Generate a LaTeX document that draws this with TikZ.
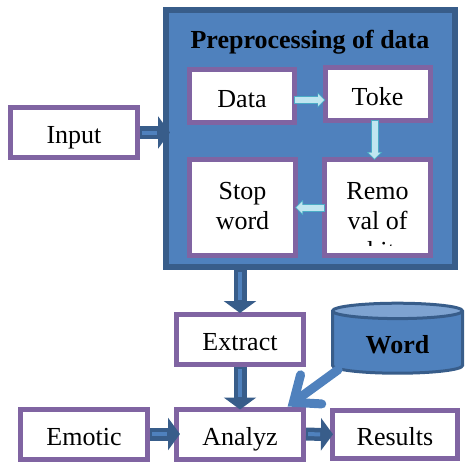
\documentclass[tikz,border=0pt]{standalone}
\usepackage{fontspec}
\setmainfont{Liberation Serif}
\usepackage{tikz}
\usetikzlibrary{arrows.meta, shapes.geometric}
\definecolor{boxblue}{HTML}{4F81BD}
\definecolor{darkblue}{HTML}{385D8A}
\definecolor{boxpurple}{HTML}{8064A2}
\definecolor{tealline}{HTML}{4BACC6}
\definecolor{lightteal}{HTML}{C0E6F0}
\definecolor{topblue}{HTML}{7EA3D1}

\begin{document}
\begin{tikzpicture}[x=0.5pt, y=-0.5pt, font=\fontsize{13}{15}\selectfont,
    box/.style={draw=boxpurple, line width=2.5pt, fill=white, inner sep=0pt, text height=11pt, text depth=0pt},
    wide/.style={box, minimum width=63.5pt, minimum height=25pt},
    small/.style={box, minimum width=52.5pt, minimum height=26.5pt},
    tall/.style={box, minimum width=53pt, minimum height=48pt,
        path picture={\clip ([yshift=5pt]path picture bounding box.south west) rectangle (path picture bounding box.north east);
            \node[align=center, anchor=north, inner sep=0pt, draw=none, fill=none, minimum size=0pt, text height={}, text depth={}]
                at ([yshift=-10pt]path picture bounding box.north) {#1};}},
    bigarrow/.style={draw=darkblue, line width=6.5pt, -{Triangle[length=6pt, width=16pt]}, shorten >=#1,
        postaction={draw=boxblue, line width=2pt, -, shorten >={#1+6.5pt}, shorten <=1pt}},
    bigarrow/.default=0pt,
    cyanarrow/.style={draw=tealline, line width=4pt, -{Triangle[length=4pt, width=7.5pt]}, shorten >=#1, shorten <=#1,
        postaction={draw=lightteal, line width=3pt, -{Triangle[length=3pt, width=5.8pt]}, shorten >={#1+0.7pt}, shorten <={#1+0.5pt}}},
    cyanarrow/.default=0pt]
    \useasboundingbox (0,0) rectangle (465,461);

    % Nodes
    \node[draw=darkblue, fill=boxblue, line width=3pt, minimum width=144.5pt, minimum height=128.5pt] (Prep) at (310.5,138.5) {};
    \node[font=\fontsize{13}{15}\selectfont\bfseries] (Title) at (310,42.5) {Preprocessing of data};
    \node[small] (Data) at (242,96) {Data};
    \node[small] (Toke) at (377.5,94) {Toke};
    \node[tall={Stop\\word}] (Stop) at (242.5,207.5) {};
    \node[tall={Remo\\val of\\white}] (Removal) at (377.5,207.5) {};
    \node[wide] (Input) at (74,132.5) {Input};
    \node[wide] (Extract) at (240,339.5) {Extract};
    \node[wide] (Emotic) at (84,434) {Emotic};
    \node[wide] (Analyz) at (240,434) {Analyz};
    \node[box, minimum width=62.5pt, minimum height=24pt] (Results) at (395,434.5) {Results};
    \node[cylinder, shape border rotate=90, aspect=0.2, draw=darkblue, line width=1.5pt,
        cylinder uses custom fill, cylinder body fill=boxblue, cylinder end fill=topblue,
        minimum width=65pt, minimum height=35pt, font=\fontsize{13}{15}\selectfont\bfseries] (Word) at (397.5,344.5) {Word};

    % Arrows
    \draw[cyanarrow=-1.5pt] ([yshift=-2pt]Data.east) -- ([yshift=-2pt]Data.east -| Toke.west);
    \draw[cyanarrow=-1.5pt] ([xshift=-1.5pt]Toke.south) -- ([xshift=-1.5pt]Removal.north);
    \draw[cyanarrow=-1.5pt] (Removal.west) -- (Stop.east);
    \draw[bigarrow=-3.5pt] (Input.east) -- (Input.east -| Prep.west);
    \draw[bigarrow=-0.5pt] (Extract.north |- Prep.south) -- (Extract.north);
    \draw[bigarrow=-1.5pt] (Extract) -- (Analyz);
    \draw[bigarrow=-3pt] (Emotic) -- (Analyz);
    \draw[bigarrow=-1.5pt] (Analyz) -- (Results);
    \draw[draw=boxblue, line width=4.5pt, line cap=round, -{Straight Barb[length=11pt, width=18pt, line cap=round]}] (Word.203) -- (Analyz.30);
\end{tikzpicture}
\end{document}
